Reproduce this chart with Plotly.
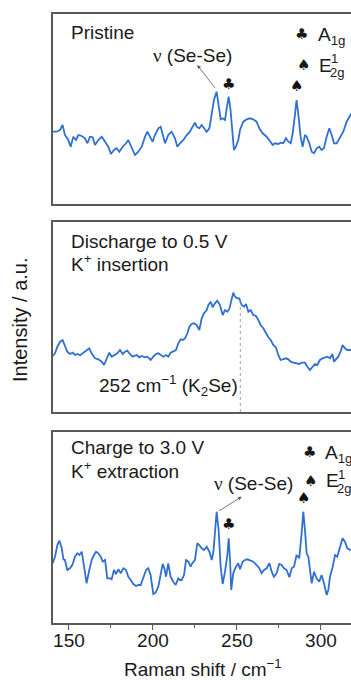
import plotly.graph_objects as go

W, H = 351, 680

# ---------------- data (Raman shift in cm^-1, intensity in a.u.) ----------------
pristine_x = [140.3, 142.7, 144.7, 146.2, 147.6, 149.6, 151.0, 152.6, 154.2, 155.6, 157.6, 159.5,
              161.0, 162.5, 164.1, 165.5, 167.5, 169.5, 171.5, 173.4, 175.0, 176.8, 178.4, 180.0,
              182.0, 184.0, 185.3, 187.3, 189.3, 191.3, 193.3, 195.3, 196.7, 198.2, 199.8, 201.2,
              203.2, 204.6, 205.8, 207.2, 209.1, 211.1, 213.1, 214.5, 216.1, 218.1, 220.1, 222.0,
              223.6, 225.0, 226.0, 227.6, 229.0, 230.4, 232.0, 233.6, 235.0, 236.3, 237.9, 239.3,
              240.3, 241.5, 242.9, 243.9, 245.1, 246.2, 247.4, 248.2, 249.4, 250.8, 251.8, 252.8,
              253.8, 255.8, 257.8, 259.7, 261.7, 263.3, 265.3, 267.7, 269.7, 271.3, 272.6, 274.6,
              276.0, 277.6, 279.2, 280.6, 282.0, 283.2, 284.4, 285.5, 286.7, 287.9, 289.1, 290.5,
              291.5, 293.1, 294.5, 295.9, 297.4, 299.0, 300.4, 301.8, 303.4, 305.0, 306.4, 307.8,
              309.4, 311.0, 313.3, 315.3, 317.3, 319.3]
pristine_y = [72.3, 72.3, 74.0, 79.0, 69.0, 64.0, 57.3, 67.3, 64.0, 69.0, 68.0, 65.7,
              60.7, 67.3, 66.7, 59.0, 64.0, 67.3, 62.3, 57.3, 50.0, 54.0, 55.7, 52.3,
              57.3, 60.7, 64.0, 55.7, 49.0, 52.3, 57.3, 67.3, 72.3, 67.3, 62.3, 69.0,
              75.7, 77.3, 70.7, 60.7, 69.0, 72.3, 65.7, 57.3, 60.7, 64.0, 69.0, 72.3,
              77.3, 81.3, 77.3, 75.7, 79.0, 75.7, 72.3, 75.7, 89.0, 104.0, 112.3, 97.3,
              84.7, 85.7, 84.0, 95.7, 107.3, 94.0, 70.7, 54.0, 57.3, 64.0, 74.0, 78.0,
              82.3, 84.7, 85.7, 84.7, 82.3, 75.7, 70.7, 67.3, 62.3, 59.0, 60.7, 60.0,
              61.3, 60.7, 65.7, 62.3, 60.7, 70.7, 87.3, 104.0, 87.3, 67.3, 57.3, 69.0,
              67.3, 60.7, 52.3, 50.7, 55.7, 57.3, 54.0, 55.7, 67.3, 75.7, 69.0, 60.7,
              60.7, 65.7, 72.3, 82.3, 89.0, 94.0]

discharge_x = [140.3, 141.7, 143.1, 144.7, 146.2, 147.6, 149.0, 150.6, 152.2, 153.6, 155.0, 156.6,
               158.2, 160.1, 162.1, 163.5, 165.5, 167.5, 169.5, 170.9, 172.4, 174.0, 175.4, 177.4,
               178.8, 180.4, 182.0, 183.4, 184.7, 186.3, 187.9, 190.3, 191.9, 193.3, 195.3, 196.7,
               198.6, 200.2, 201.8, 203.2, 204.6, 206.2, 207.8, 209.1, 210.5, 212.1, 213.7, 215.1,
               216.5, 217.7, 219.1, 220.5, 221.7, 223.0, 224.4, 226.0, 227.6, 229.0, 230.4, 232.0,
               233.0, 234.4, 235.5, 236.9, 238.3, 239.9, 241.5, 242.9, 244.3, 245.5, 246.8, 247.8,
               248.8, 250.2, 251.4, 252.8, 254.2, 255.4, 256.8, 258.2, 259.7, 261.3, 262.7, 264.1,
               265.7, 267.3, 268.7, 270.1, 271.6, 273.2, 274.6, 276.0, 277.6, 279.2, 280.6, 282.0,
               283.6, 285.5, 287.1, 288.5, 290.5, 291.9, 293.5, 295.1, 296.5, 297.8, 299.4, 301.0,
               302.4, 303.8, 305.4, 306.8, 307.8, 309.0, 310.3, 311.7, 312.9, 314.3, 315.7, 317.7,
               320.0]
discharge_y = [56.0, 58.7, 65.3, 70.3, 72.0, 65.3, 60.3, 58.0, 59.3, 57.0, 58.0, 56.7,
               58.7, 61.3, 63.7, 58.7, 53.7, 52.7, 50.3, 47.0, 53.7, 59.3, 55.3, 57.0,
               58.7, 62.0, 58.0, 60.3, 61.3, 58.0, 55.3, 57.0, 54.7, 56.0, 54.7, 55.3,
               52.0, 55.3, 58.0, 58.7, 57.0, 55.3, 57.0, 55.3, 59.3, 60.3, 62.0, 68.7,
               72.7, 72.0, 73.7, 78.7, 85.3, 88.0, 88.7, 87.0, 82.0, 93.7, 98.7, 102.0,
               107.0, 110.3, 104.7, 108.7, 111.3, 107.0, 97.0, 102.0, 100.3, 103.3, 112.0, 119.3,
               115.3, 113.7, 113.7, 107.0, 105.3, 108.0, 100.3, 102.0, 97.0, 96.0, 92.0, 87.0,
               83.7, 78.7, 74.7, 72.0, 67.0, 64.7, 57.0, 52.0, 52.7, 53.7, 52.7, 50.3,
               49.3, 48.7, 48.0, 49.3, 49.3, 45.3, 42.0, 45.3, 48.0, 47.0, 52.0, 53.7,
               54.7, 55.3, 53.7, 58.0, 50.3, 52.7, 55.3, 60.3, 67.0, 63.7, 62.0, 62.0,
               62.0]

charge_x = [140.3, 141.7, 143.1, 144.3, 145.7, 146.7, 147.6, 149.0, 150.6, 152.0, 153.6, 155.0,
            156.2, 157.6, 159.0, 160.5, 162.1, 163.5, 164.9, 166.1, 167.5, 168.9, 170.1, 171.5,
            172.8, 174.4, 175.4, 176.8, 178.0, 179.4, 180.8, 182.4, 184.0, 185.3, 186.7, 188.3,
            189.9, 191.3, 192.7, 194.3, 195.9, 197.2, 198.6, 200.2, 201.6, 203.2, 204.6, 205.8,
            206.8, 207.8, 209.1, 210.5, 212.1, 213.5, 215.1, 216.1, 217.1, 218.5, 219.7, 221.1,
            222.4, 223.6, 225.0, 226.4, 227.6, 229.0, 230.4, 232.0, 233.6, 235.0, 236.0, 237.0,
            237.9, 239.1, 240.3, 241.5, 242.9, 244.3, 245.1, 245.9, 246.6, 247.8, 249.4, 250.8,
            251.8, 253.4, 254.8, 256.2, 257.8, 259.7, 261.7, 263.3, 264.7, 266.1, 267.7, 269.3,
            270.7, 272.0, 273.6, 275.2, 276.6, 278.0, 279.6, 281.2, 282.6, 284.0, 285.5, 287.1,
            288.5, 289.5, 290.5, 291.5, 292.5, 293.5, 294.5, 295.9, 297.4, 299.0, 300.4, 301.8,
            303.4, 304.4, 305.4, 307.0, 308.4, 309.7, 311.3, 312.9, 314.3, 315.7, 317.7, 320.0]
charge_y = [59.7, 66.3, 78.0, 82.3, 74.7, 63.7, 63.0, 53.0, 54.7, 58.0, 66.3, 69.7,
            68.0, 71.3, 56.3, 39.7, 53.0, 63.0, 68.0, 71.3, 69.7, 66.3, 61.3, 63.0,
            44.7, 44.7, 43.7, 53.0, 49.0, 53.7, 49.7, 54.7, 53.0, 46.3, 43.0, 39.0,
            37.0, 38.0, 38.0, 44.7, 53.0, 54.7, 48.0, 29.0, 30.3, 36.3, 49.7, 59.0,
            54.7, 46.3, 59.7, 46.3, 41.3, 38.0, 44.7, 43.0, 43.0, 48.0, 63.0, 61.3,
            56.3, 60.3, 63.0, 79.7, 78.0, 74.7, 73.0, 76.3, 71.3, 63.0, 71.3, 89.7,
            111.3, 93.0, 56.3, 39.0, 51.3, 68.0, 84.7, 63.0, 33.0, 49.7, 56.3, 59.7,
            53.7, 61.3, 63.0, 63.7, 62.3, 61.3, 58.0, 54.7, 49.7, 53.0, 54.7, 59.7,
            51.3, 46.3, 49.7, 59.0, 58.0, 54.7, 53.0, 45.7, 54.7, 56.3, 68.0, 64.7,
            89.7, 111.3, 93.0, 69.7, 66.3, 51.3, 39.7, 51.3, 44.7, 41.3, 48.0, 39.7,
            28.0, 33.0, 46.3, 56.3, 68.0, 66.3, 74.7, 84.7, 81.3, 74.7, 73.0, 73.0]

# peak positions (cm^-1) and their intensities
pristine_a1g = (245.1, 107.3)
pristine_e2g = (285.5, 104.0)
k2se_peak = (252.0, 112.0)
charge_a1g = (245.1, 84.7)
charge_e2g = (289.5, 111.3)

x_ticks = [150, 200, 250, 300]
x_range = [140.2, 317.9]

# ---------------- styling ----------------
LINE = "#3070D0"
FRAME = "#5a5a5a"
FONT = "Liberation Sans, Arial, sans-serif"
TXT = "#1a1a1a"
FS = 19
NU = "<span style='font-family:Liberation Serif'>ν</span> (Se-Se)"

def px(x):
    return x / W

def py(y):
    return 1 - y / H

panel_px = [(14, 204), (222, 412), (432, 623)]
x_dom = [52.5 / W, 1.0]

fig = go.Figure()
series = [(pristine_x, pristine_y), (discharge_x, discharge_y), (charge_x, charge_y)]
for i, (xs, ys) in enumerate(series):
    sfx = "" if i == 0 else str(i + 1)
    fig.add_trace(go.Scatter(x=xs, y=ys, mode="lines",
                             line=dict(color=LINE, width=1.8),
                             xaxis="x" + sfx, yaxis="y" + sfx,
                             showlegend=False, hoverinfo="skip"))

layout = dict(width=W, height=H, margin=dict(l=0, r=0, t=0, b=0),
              paper_bgcolor="white", plot_bgcolor="white",
              font=dict(family=FONT, size=FS, color=TXT), showlegend=False)

for i, (top, bot) in enumerate(panel_px):
    sfx = "" if i == 0 else str(i + 1)
    last = i == 2
    yr = [0, bot - top]
    xa = dict(domain=x_dom, range=x_range, anchor="y" + sfx,
              showline=True, linecolor=FRAME, linewidth=1.5, mirror=True,
              showgrid=False, zeroline=False, automargin=False,
              tickvals=x_ticks, showticklabels=last,
              ticks="outside" if last else "", ticklen=5, tickwidth=1.2, tickcolor=FRAME,
              tickfont=dict(size=FS, color=TXT, family=FONT))
    if last:
        xa["minor"] = dict(ticks="outside", ticklen=3, tickwidth=1.2, tickcolor=FRAME,
                           dtick=25, tick0=150)
        xa["ticklabelstandoff"] = -6
    ya = dict(domain=[py(bot), py(top)], range=yr, anchor="x" + sfx,
              showline=True, linecolor=FRAME, linewidth=1.5, mirror=False,
              showgrid=False, zeroline=False, showticklabels=False, ticks="",
              automargin=False)
    layout["xaxis" + sfx] = xa
    layout["yaxis" + sfx] = ya

fig.update_layout(**layout)

ann = []

def text(t, x, y, size=FS, xanchor="left", yanchor="middle", family=FONT):
    ann.append(dict(text=t, x=px(x), y=py(y), xref="paper", yref="paper",
                    xanchor=xanchor, yanchor=yanchor, showarrow=False,
                    font=dict(size=size, color=TXT, family=family)))

def marker(sym, pk, xr, yr, shift=10):
    ann.append(dict(text=sym, x=pk[0], y=pk[1], xref=xr, yref=yr,
                    xanchor="center", yanchor="bottom", yshift=shift, showarrow=False,
                    font=dict(size=15, color="#111", family="DejaVu Sans")))

# panel 1
text("Pristine", 68.5, 32)
text(NU, 192.5, 55, xanchor="center")
text("♣", 301.7, 33.5, size=15, xanchor="center", family="DejaVu Sans")
text("A<sub>1g</sub>", 315.5, 36)
text("♠", 303.3, 64.5, size=15, xanchor="center", family="DejaVu Sans")
text("E", 316.5, 65)
text("1", 329, 58.5, size=13)
text("2g", 328, 72.5, size=13)
marker("♣", pristine_a1g, "x", "y", shift=2)
marker("♠", pristine_e2g, "x", "y", shift=3)
ann.append(dict(text="", x=px(197.3), y=py(65), xref="paper", yref="paper",
                ax=18.7, ay=24.3, showarrow=True, arrowhead=2, arrowsize=0.9,
                arrowwidth=0.8, arrowcolor="#555", standoff=0))

# panel 2
text("Discharge to 0.5 V", 68.5, 241.5)
text("K<sup>+</sup> insertion", 68.5, 263.5)
text("252 cm<sup>−1</sup> (K<sub>2</sub>Se)", 96.5, 385)

# panel 3
text("Charge to 3.0 V", 68.5, 447.5)
text("K<sup>+</sup> extraction", 68.5, 470)
text(NU, 253.3, 483.5, xanchor="center")
text("♣", 309.3, 451.5, size=15, xanchor="center", family="DejaVu Sans")
text("A<sub>1g</sub>", 323, 454)
text("♠", 310.5, 480.5, size=15, xanchor="center", family="DejaVu Sans")
text("E", 323.5, 480.5)
text("1", 336, 474, size=13)
text("2g", 335, 488.5, size=13)
marker("♣", charge_a1g, "x3", "y3", shift=3)
marker("♠", charge_e2g, "x3", "y3", shift=3)
ann.append(dict(text="", x=px(241.7), y=py(496.7), xref="paper", yref="paper",
                ax=-24, ay=15, showarrow=True, arrowhead=2, arrowsize=0.9,
                arrowwidth=0.8, arrowcolor="#555", standoff=0))

# axis titles
text("Raman shift / cm<sup>−1</sup>", 203, 668, xanchor="center")
ann.append(dict(text="Intensity / a.u.", x=px(20), y=py(320), xref="paper", yref="paper",
                xanchor="center", yanchor="middle", textangle=-90, showarrow=False,
                font=dict(size=20, color=TXT, family=FONT)))

fig.update_layout(annotations=ann)

# dotted marker line for the K2Se band
fig.add_shape(type="line", xref="x2", yref="y2", x0=k2se_peak[0], x1=k2se_peak[0],
              y0=0, y1=k2se_peak[1], line=dict(color="#888", width=0.8, dash="dot"))

fig.write_html("out.html", include_plotlyjs=True, config={"displayModeBar": False})
